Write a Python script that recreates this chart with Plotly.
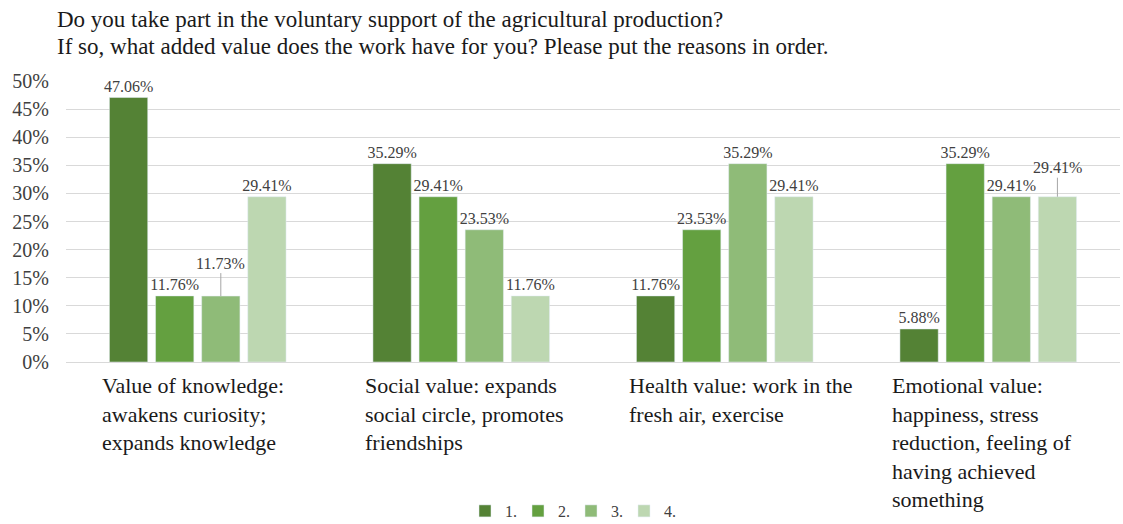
import plotly.graph_objects as go

categories = [
    "Value of knowledge:<br>awakens curiosity;<br>expands knowledge",
    "Social value: expands<br>social circle, promotes<br>friendships",
    "Health value: work in the<br>fresh air, exercise",
    "Emotional value:<br>happiness, stress<br>reduction, feeling of<br>having achieved<br>something",
]
series_names = ["1.", "2.", "3.", "4."]
values = [
    [47.06, 35.29, 11.76, 5.88],
    [11.76, 29.41, 23.53, 35.29],
    [11.73, 23.53, 35.29, 29.41],
    [29.41, 11.76, 29.41, 29.41],
]
colors = ["#548235", "#64a040", "#8fbb78", "#bdd7b1"]
y_ticks = [0, 5, 10, 15, 20, 25, 30, 35, 40, 45, 50]
# labels drawn with a leader line: (series index, category index, offset px)
leader_labels = [(2, 0, -33), (3, 3, -29)]

title_lines = [
    "Do you take part in the voluntary support of the agricultural production?",
    "If so, what added value does the work have for you? Please put the reasons in order.",
]

SERIF = "Liberation Serif, Times New Roman, serif"
x_idx = list(range(len(categories)))

W, H = 1123, 524
ML, MT = 66, 81
MR = W - 1120
MB = H - 362
PW = W - ML - MR
PH = H - MT - MB

fig = go.Figure()
for s, name in enumerate(series_names):
    texts = []
    for c in x_idx:
        if any(ls == s and lc == c for ls, lc, _ in leader_labels):
            texts.append("")
        else:
            texts.append(f"{values[s][c]:.2f}%")
    fig.add_trace(go.Bar(
        x=x_idx, y=[v / 100 for v in values[s]], name=name,
        marker=dict(color=colors[s]),
        text=texts, textposition="outside", cliponaxis=False,
        constraintext="none",
        textfont=dict(family=SERIF, size=16, color="#404040"),
        hoverinfo="skip",
    ))

bargap = 0.3
n = len(series_names)
slot = (1 - bargap) / n
for s, c, ay in leader_labels:
    off = -(1 - bargap) / 2 + slot * (s + 0.5)
    fig.add_annotation(
        x=c + off, y=values[s][c] / 100, xref="x", yref="y",
        text=f"{values[s][c]:.2f}%", showarrow=True, arrowhead=0,
        arrowwidth=1, arrowcolor="#a6a6a6", ax=0, ay=ay,
        font=dict(family=SERIF, size=16, color="#404040"),
    )

for c in x_idx:
    fig.add_annotation(
        x=c, y=-9 / PH, xref="x", yref="paper", xshift=-98,
        text=categories[c], showarrow=False, xanchor="left", yanchor="top",
        align="left", font=dict(family=SERIF, size=22, color="#1a1a1a"),
    )

for i, line in enumerate(title_lines):
    fig.add_annotation(
        x=(55 - ML) / PW, y=1 + (61 - 27 * i) / PH,
        xref="paper", yref="paper",
        text=line, showarrow=False, xanchor="left", yanchor="middle",
        font=dict(family=SERIF, size=23, color="#1a1a1a"),
    )

fig.update_layout(
    width=W, height=H,
    margin=dict(l=ML, r=MR, t=MT, b=MB, pad=0),
    paper_bgcolor="white", plot_bgcolor="white",
    barmode="group", bargap=bargap, bargroupgap=0.17,
    showlegend=True,
    legend=dict(orientation="h", x=(465 - ML) / PW, xanchor="left",
                yref="container", y=(H - 511) / H, yanchor="middle",
                font=dict(family=SERIF, size=16, color="#404040"),
                entrywidth=8, entrywidthmode="pixels", itemwidth=30,
                tracegroupgap=0),
    xaxis=dict(range=[-0.5, 3.5], showticklabels=False, showgrid=False,
               zeroline=False, showline=False, ticks="", automargin=False),
    yaxis=dict(range=[0, 0.5], tickvals=[t / 100 for t in y_ticks],
               ticktext=[f"{t}%" for t in y_ticks],
               showgrid=True, gridcolor="#d9d9d9", gridwidth=1,
               zeroline=True, zerolinecolor="#d9d9d9", zerolinewidth=1,
               tickfont=dict(family=SERIF, size=20, color="#404040"),
               ticks="", ticklabelstandoff=16, automargin=False),
    font=dict(family=SERIF),
)

fig.write_html(
    "out.html",
    config={"displayModeBar": False},
    post_script="document.body.style.margin='0';",
)
